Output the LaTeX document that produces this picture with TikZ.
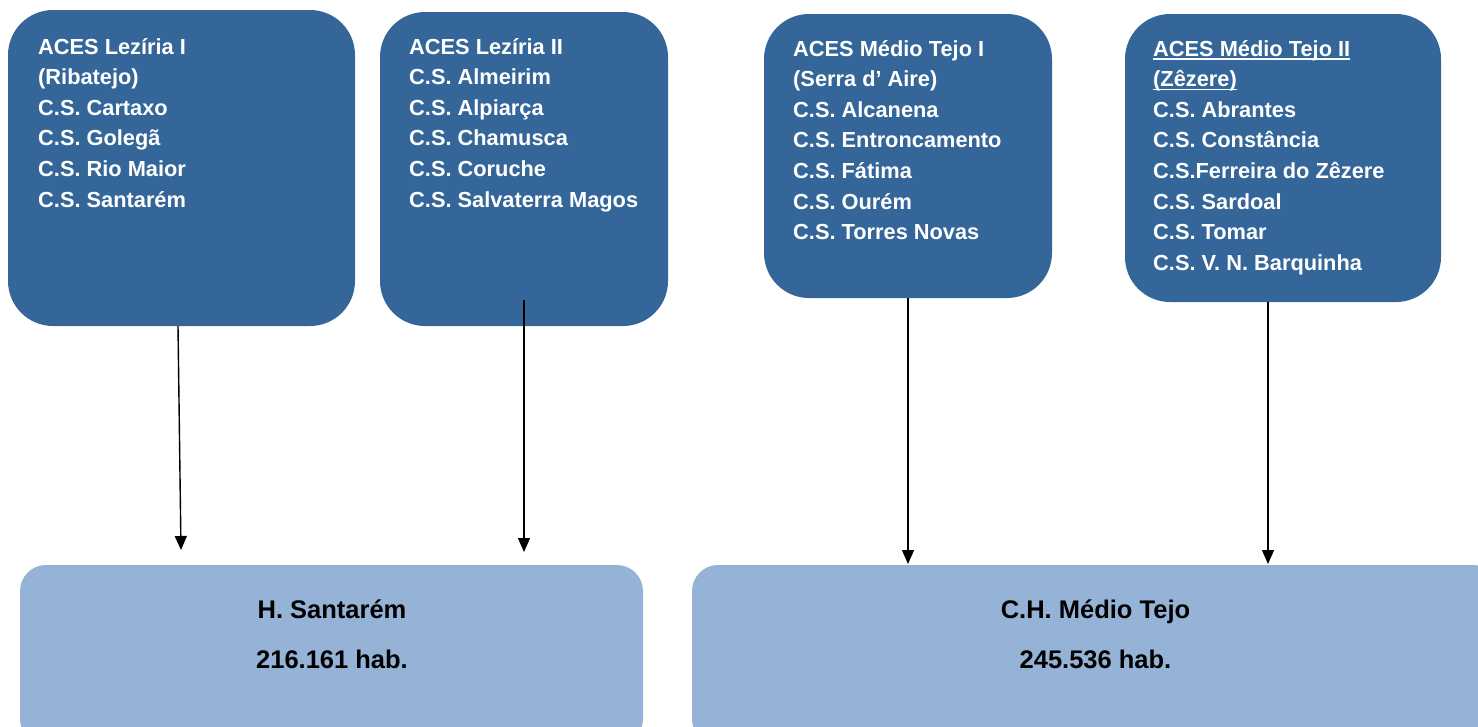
\documentclass[tikz,border=0pt]{standalone}
\usepackage{fontspec}
\setmainfont{Liberation Sans}
\usetikzlibrary{arrows.meta}
\definecolor{darkbox}{RGB}{52,102,153}
\definecolor{lightbox}{RGB}{149,179,215}
\newcommand\ulx[1]{\setbox0\hbox{#1}\rlap{\rule[-3.5pt]{\wd0}{1.3pt}}\box0}
\tikzset{
  topbox/.style={fill=darkbox, draw=none, rounded corners=45pt},
  botbox/.style={fill=lightbox, draw=none, rounded corners=26pt},
  toptext/.style={anchor=north west, inner sep=0pt, align=left, text=white,
    font=\fontsize{21.8}{30.6}\selectfont\bfseries},
  bottext/.style={inner sep=0pt, align=center, text=black,
    font=\fontsize{25.5}{50}\selectfont\bfseries},
  conn/.style={line width=1.4pt, -{Triangle[length=14pt,width=12pt]}}
}
\begin{document}
\begin{tikzpicture}[x=1pt,y=-1pt]
\useasboundingbox (0,0) rectangle (1478,726);
\clip (0,0) rectangle (1478,726);
% top boxes
\path[topbox] (8,10) rectangle (355,326);
\path[topbox] (380,12) rectangle (668,326);
\path[topbox] (764,14) rectangle (1052,298);
\path[topbox] (1125,14) rectangle (1441,302);
\node[toptext] (t1) at (38,38) {ACES Lezíria I\\(Ribatejo)\\C.S. Cartaxo\\C.S. Golegã\\C.S. Rio Maior\\C.S. Santarém};
\node[toptext] (t2) at (409,38) {ACES Lezíria II\\C.S. Almeirim\\C.S. Alpiarça\\C.S. Chamusca\\C.S. Coruche\\C.S. Salvaterra Magos};
\node[toptext] (t3) at (793,40) {ACES Médio Tejo I\\(Serra d’ Aire)\\C.S. Alcanena\\C.S. Entroncamento\\C.S. Fátima\\C.S. Ourém\\C.S. Torres Novas};
\node[toptext] (t4) at (1153,40) {\ulx{ACES Médio Tejo II}\\\ulx{(Zêzere)}\\C.S. Abrantes\\C.S. Constância\\C.S.Ferreira do Zêzere\\C.S. Sardoal\\C.S. Tomar\\C.S. V. N. Barquinha};
% bottom boxes
\path[botbox] (20,565) rectangle (643,745);
\path[botbox] (692,565) rectangle (1499,745);
\node[bottext] (b1) at (332,634) {H. Santarém\\216.161 hab.};
\node[bottext] (b2) at (1095.5,634) {C.H. Médio Tejo\\245.536 hab.};
% connectors
\coordinate (s1) at (178,326); \coordinate (e1) at (181,550);
\coordinate (s2) at (524,300); \coordinate (e2) at (524,552);
\coordinate (s3) at (908,298); \coordinate (e3) at (908,564);
\coordinate (s4) at (1268,302); \coordinate (e4) at (1268,564);
\draw[conn] (s1) -- (e1);
\draw[conn] (s2) -- (e2);
\draw[conn] (s3) -- (e3);
\draw[conn] (s4) -- (e4);
\end{tikzpicture}
\end{document}
